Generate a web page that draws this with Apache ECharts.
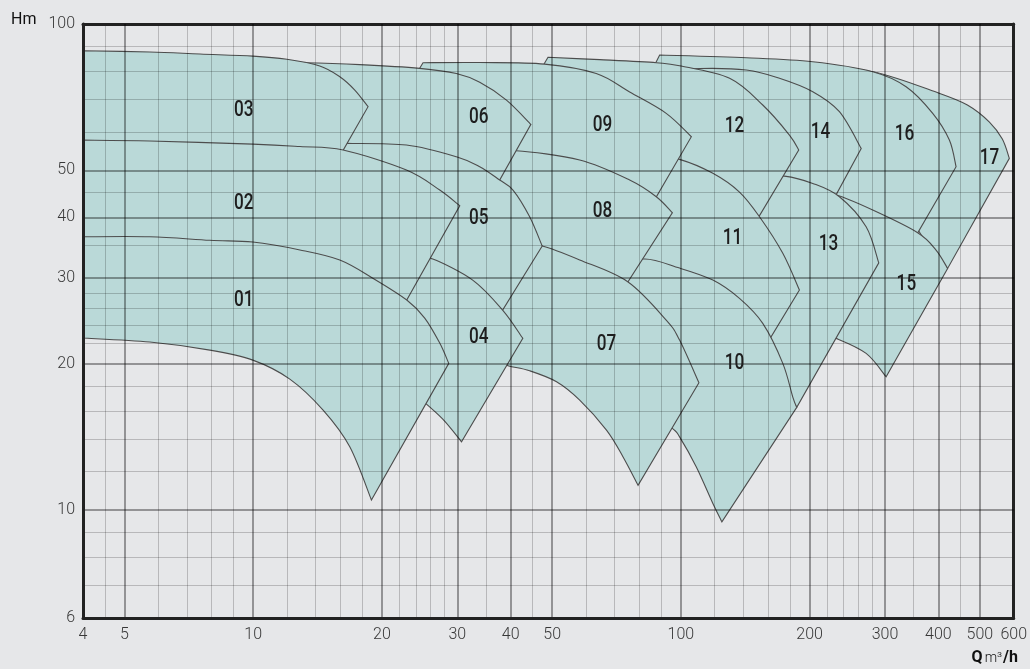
<!DOCTYPE html>
<html>
<head>
<meta charset="utf-8">
<script src="https://cdn.jsdelivr.net/npm/echarts@6/dist/echarts.min.js"></script>
<style>
html,body{margin:0;padding:0;background:#e6e7e9;}
#chart{width:1030px;height:669px;}
</style>
</head>
<body>
<div id="chart"></div>
<script>
// ---- axis ticks / grid values ----
const xTickLabels = [4, 5, 10, 20, 30, 40, 50, 100, 200, 300, 400, 500, 600];
const yTickLabels = [6, 10, 20, 30, 40, 50, 100];
const xMajorGrid = [5, 10, 20, 30, 40, 50, 100, 200, 300, 400, 500];
const xMinorGrid = [4.5, 6, 7, 8, 9, 12, 14, 16, 18, 22, 24, 26, 28, 35, 45, 60, 70, 80, 90, 120, 140, 160, 180, 220, 240, 260, 280, 350, 450];
const yMajorGrid = [10, 20, 30, 40, 50];
const yMinorGrid = [7, 8, 9, 12, 14, 16, 18, 22, 24, 26, 28, 35, 45, 60, 70, 80, 90];

// ---- pump ranges: [Q m3/h, H m] ----
// top = max curve (left -> right tip), bottom = min curve (left -> bottom tip), left = hidden left side points
const p01Top = [[4,36.5],[5.73,36.5],[7.92,35.9],[9.98,35.6],[12.86,34.3],[15.94,32.7],[19.04,30.0],[22.86,27.05],[25.18,24.84],[27.3,22.06],[28.66,20.04]];
const p01Bottom = [[4,22.6],[5.73,22.17],[7.92,21.34],[9.98,20.35],[12.18,18.6],[14.57,16.06],[16.82,13.5],[18.9,10.49]];
const p01Left = [];

const p02Top = [[4,57.7],[5.73,57.44],[9.98,56.62],[12.86,55.96],[16.23,55.05],[22.82,50.07],[27.3,45.54],[30.4,42.27]];
const p02Bottom = [[4,35.1],[9.98,34.28],[15.94,31.47],[22.38,26.17]];
const p02Left = [];

const p03Top = [[4,88.1],[5.73,87.6],[7.51,86.75],[9.98,85.9],[11.99,84.6],[14.31,81.96],[15.94,77.9],[17.28,73.15],[18.56,67.6]];
const p03Bottom = [[4,55.57],[9.98,54.52],[15.94,53.5]];
const p03Left = [];

const p04Top = [[25.18,32.37],[26.3,32.85],[32.6,29.73],[38.3,25.79],[42.7,22.56]];
const p04Bottom = [[24.5,17.0],[27.75,15.39],[30.7,13.82]];
const p04Left = [[22.0,27.05]];

const p05Top = [[15.52,56.62],[16.53,56.8],[22.82,56.36],[29.86,53.33],[33.86,50.86],[37.7,47.75],[40.5,45.54],[44.3,40.13],[47.4,34.93]];
const p05Bottom = [[24.5,31.92],[33.86,27.05],[37.3,24.84]];
const p05Left = [[15.94,43.43]];

const p06Top = [[11.54,83.13],[13.07,83.24],[17.75,82.5],[24.5,81.05],[29.86,79.1],[33.86,75.9],[39.1,69.75],[44.6,62.17]];
const p06Bottom = [[22.0,51.27],[36.8,45.98]];
const p06Left = [[11.54,69.75],[15.94,53.74]];

const p07Top = [[45.5,34.44],[47.4,34.93],[58.0,32.7],[75.1,29.5],[92.4,24.6],[99.3,22.38],[110.2,18.28]];
const p07Bottom = [[37.7,20.16],[39.6,19.79],[44.3,19.35],[51.2,18.37],[58.0,16.84],[67.0,14.61],[73.2,12.88],[79.4,11.25]];
const p07Left = [[36.7,25.79]];

const p08Top = [[37.7,53.74],[41.2,54.87],[58.0,52.5],[75.9,47.75],[87.6,44.12],[95.5,40.9]];
const p08Bottom = [[45.5,35.1],[64.6,30.44],[73.1,28.36]];
const p08Left = [[35.7,44.47]];

const p09Top = [[24.95,83.24],[33.86,83.31],[48.0,82.7],[63.4,79.1],[75.9,72.45],[92.4,65.5],[105.8,58.63]];
const p09Bottom = [[37.7,56.36],[52.1,48.9],[85.4,42.42]];
const p09Left = [[22.1,69.75]];

const p10Top = [[70.0,30.44],[81.5,32.85],[99.3,31.47],[118.8,29.73],[137.1,27.26],[155.4,24.22],[173.1,20.04],[182.6,17.1],[186.6,16.27]];
const p10Bottom = [[82.2,16.44],[95.5,14.73],[99.3,14.15],[108.6,12.28],[118.8,10.32],[124.7,9.46]];
const p10Left = [[71.9,27.05]];

const p11Top = [[93.1,52.5],[99.3,52.67],[118.8,49.3],[137.1,45.11],[152.7,40.13],[173.1,33.75],[189.3,28.36]];
const p11Bottom = [[80.1,31.47],[123.2,27.05],[157.7,21.75]];
const p11Left = [[82.2,41.82]];

const p12Top = [[48.9,85.4],[64.6,84.46],[87.6,83.24],[99.3,82.06],[130.0,77.32],[155.4,68.13],[179.4,59.1],[188.6,55.05]];
const p12Bottom = [[80.1,57.71],[123.2,44.47],[148.6,38.77]];
const p12Left = [[45.5,76.7]];

const p13Top = [[161.2,48.2],[174.7,48.66],[203.4,47.0],[234.8,44.12],[271.1,38.27],[290.2,32.26]];
const p13Bottom = [[140.9,37.68],[152.7,27.05],[161.2,20.35],[186.6,16.27]];
const p13Left = [];

const p14Top = [[89.2,79.65],[110.6,80.98],[142.2,80.4],[170.0,77.32],[203.4,72.55],[234.8,66.0],[264.0,55.48]];
const p14Bottom = [[137.1,55.05],[189.3,43.43],[223.8,42.42]];
const p14Left = [[84.5,69.75]];

const p15Top = [[217.8,43.85],[230.7,44.47],[280.9,41.42],[357.8,37.21],[395.0,34.28],[420.4,31.42]];
const p15Bottom = [[216.6,22.8],[230.7,22.56],[271.1,21.01],[301.9,18.81]];
const p15Left = [];

const p16Top = [[89.2,86.35],[142.2,85.23],[203.4,83.63],[280.9,79.77],[336.2,74.3],[388.0,65.5],[424.4,57.71],[440.0,50.86]];
const p16Bottom = [[210.9,47.75],[247.8,39.52],[347.8,35.6]];
const p16Left = [[84.5,78.53],[144.7,66.53]];

const p17Top = [[189.3,82.7],[280.9,79.77],[402.1,72.0],[467.6,68.13],[526.5,62.85],[564.4,57.99],[586.1,52.92]];
const p17Bottom = [[324.3,43.43],[391.5,33.47],[420.4,31.42]];
const p17Left = [[189.3,73.15]];

// ---- region labels ----
const labelNames = ['01','02','03','04','05','06','07','08','09','10','11','12','13','14','15','16','17'];
const labelQ = [9.51, 9.51, 9.51, 33.7, 33.7, 33.7, 67.0, 65.6, 65.6, 133.5, 132.1, 133.5, 221.4, 212.0, 336.7, 333.2, 526.5];
const labelH = [27.05, 42.82, 66.53, 22.7, 39.89, 64.36, 21.96, 41.22, 61.97, 20.07, 36.28, 61.67, 35.26, 59.95, 29.17, 59.38, 53.0];

const regions = [
  {top: p01Top, bottom: p01Bottom, left: p01Left},
  {top: p02Top, bottom: p02Bottom, left: p02Left},
  {top: p03Top, bottom: p03Bottom, left: p03Left},
  {top: p04Top, bottom: p04Bottom, left: p04Left},
  {top: p05Top, bottom: p05Bottom, left: p05Left},
  {top: p06Top, bottom: p06Bottom, left: p06Left},
  {top: p07Top, bottom: p07Bottom, left: p07Left},
  {top: p08Top, bottom: p08Bottom, left: p08Left},
  {top: p09Top, bottom: p09Bottom, left: p09Left},
  {top: p10Top, bottom: p10Bottom, left: p10Left},
  {top: p11Top, bottom: p11Bottom, left: p11Left},
  {top: p12Top, bottom: p12Bottom, left: p12Left},
  {top: p13Top, bottom: p13Bottom, left: p13Left},
  {top: p14Top, bottom: p14Bottom, left: p14Left},
  {top: p15Top, bottom: p15Bottom, left: p15Left},
  {top: p16Top, bottom: p16Bottom, left: p16Left},
  {top: p17Top, bottom: p17Bottom, left: p17Left}
];

// draw highest number first so lower numbers sit on top
const regionData = [];
for (let i = regions.length - 1; i >= 0; i--) regionData.push([4, 6, i]);

function smoothSeg(pts) {
  let d = '';
  for (let i = 0; i < pts.length - 1; i++) {
    const p0 = pts[i - 1] || pts[i], p1 = pts[i], p2 = pts[i + 1], p3 = pts[i + 2] || pts[i + 1];
    const c1x = p1[0] + (p2[0] - p0[0]) / 6, c1y = p1[1] + (p2[1] - p0[1]) / 6;
    const c2x = p2[0] - (p3[0] - p1[0]) / 6, c2y = p2[1] - (p3[1] - p1[1]) / 6;
    d += ' C' + c1x + ',' + c1y + ' ' + c2x + ',' + c2y + ' ' + p2[0] + ',' + p2[1];
  }
  return d;
}

function renderRegion(params, api) {
  const r = regions[api.value(2)];
  const top = r.top.map(p => api.coord(p));
  const bot = r.bottom.map(p => api.coord(p)).reverse();
  const left = r.left.map(p => api.coord(p)).reverse();
  let d = 'M' + top[0][0] + ',' + top[0][1] + smoothSeg(top);
  d += ' L' + bot[0][0] + ',' + bot[0][1] + smoothSeg(bot);
  left.forEach(p => { d += ' L' + p[0] + ',' + p[1]; });
  d += ' Z';
  return {
    type: 'path',
    shape: {pathData: d},
    style: {fill: '#bad9d8', stroke: '#4d4d4d', lineWidth: 1.1, lineJoin: 'miter'}
  };
}

function renderLabel(params, api) {
  const p = api.coord([api.value(0), api.value(1)]);
  return {
    type: 'text',
    x: p[0], y: p[1],
    scaleX: 0.78,
    style: {
      text: labelNames[api.value(2)],
      align: 'center', verticalAlign: 'middle',
      fontSize: 22, fontWeight: 500,
      fontFamily: 'Roboto',
      fill: '#1e1e1e'
    }
  };
}

const axisFont = {color: '#383838', fontSize: 16, fontFamily: 'Roboto', fontWeight: 300};
const frameLine = {show: true, onZero: false, lineStyle: {color: '#222', width: 3}};

const chart = echarts.init(document.getElementById('chart'), null, {renderer: 'canvas'});
chart.setOption({
  backgroundColor: '#e6e7e9',
  animation: false,
  grid: {left: 83, right: 16, top: 24, bottom: 51, containLabel: false},
  xAxis: [
    {type: 'log', logBase: 10, min: 4, max: 600, position: 'bottom', z: 10,
     axisLine: frameLine,
     axisTick: {show: false, customValues: xMajorGrid},
     axisLabel: Object.assign({customValues: xTickLabels, margin: 9}, axisFont),
     splitLine: {show: true, lineStyle: {color: 'rgba(0,0,0,0.36)', width: 2}}},
    {type: 'log', logBase: 10, min: 4, max: 600, position: 'top', z: 9,
     axisLine: frameLine,
     axisTick: {show: false, customValues: xMinorGrid},
     axisLabel: {show: false},
     splitLine: {show: true, lineStyle: {color: 'rgba(0,0,0,0.2)', width: 1}}}
  ],
  yAxis: [
    {type: 'log', logBase: 10, min: 6, max: 100, position: 'left', z: 10,
     axisLine: frameLine,
     axisTick: {show: false, customValues: yMajorGrid},
     axisLabel: Object.assign({customValues: yTickLabels, margin: 8}, axisFont),
     splitLine: {show: true, lineStyle: {color: 'rgba(0,0,0,0.36)', width: 2}}},
    {type: 'log', logBase: 10, min: 6, max: 100, position: 'right', z: 9,
     axisLine: frameLine,
     axisTick: {show: false, customValues: yMinorGrid},
     axisLabel: {show: false},
     splitLine: {show: true, lineStyle: {color: 'rgba(0,0,0,0.2)', width: 1}}}
  ],
  graphic: [
    {type: 'text', left: 11, top: 12, z: 20,
     style: {text: 'Hm', fontSize: 16, fontFamily: 'Roboto', fill: '#111'}},
    {type: 'text', right: 12, top: 650, z: 20,
     style: {text: '{q|Q}{m|m³}{h|/h}', rich: {
       q: {fontSize: 16, fontWeight: 'bold', fontFamily: 'Roboto', fill: '#111', color: '#111'},
       m: {fontSize: 14, fontWeight: 300, fontFamily: 'Roboto', fill: '#111', color: '#111', padding: [0, 1, 0, 2]},
       h: {fontSize: 16, fontWeight: 'bold', fontFamily: 'Roboto', fill: '#111', color: '#111'}
     }}}
  ],
  series: [
    {type: 'custom', name: 'ranges', coordinateSystem: 'cartesian2d', xAxisIndex: 0, yAxisIndex: 0,
     z: 2, silent: true, encode: {x: 0, y: 1}, data: regionData, renderItem: renderRegion},
    {type: 'custom', name: 'labels', coordinateSystem: 'cartesian2d', xAxisIndex: 0, yAxisIndex: 0,
     z: 12, silent: true, encode: {x: 0, y: 1},
     data: labelNames.map((n, i) => [labelQ[i], labelH[i], i]), renderItem: renderLabel}
  ]
});
</script>
</body>
</html>
